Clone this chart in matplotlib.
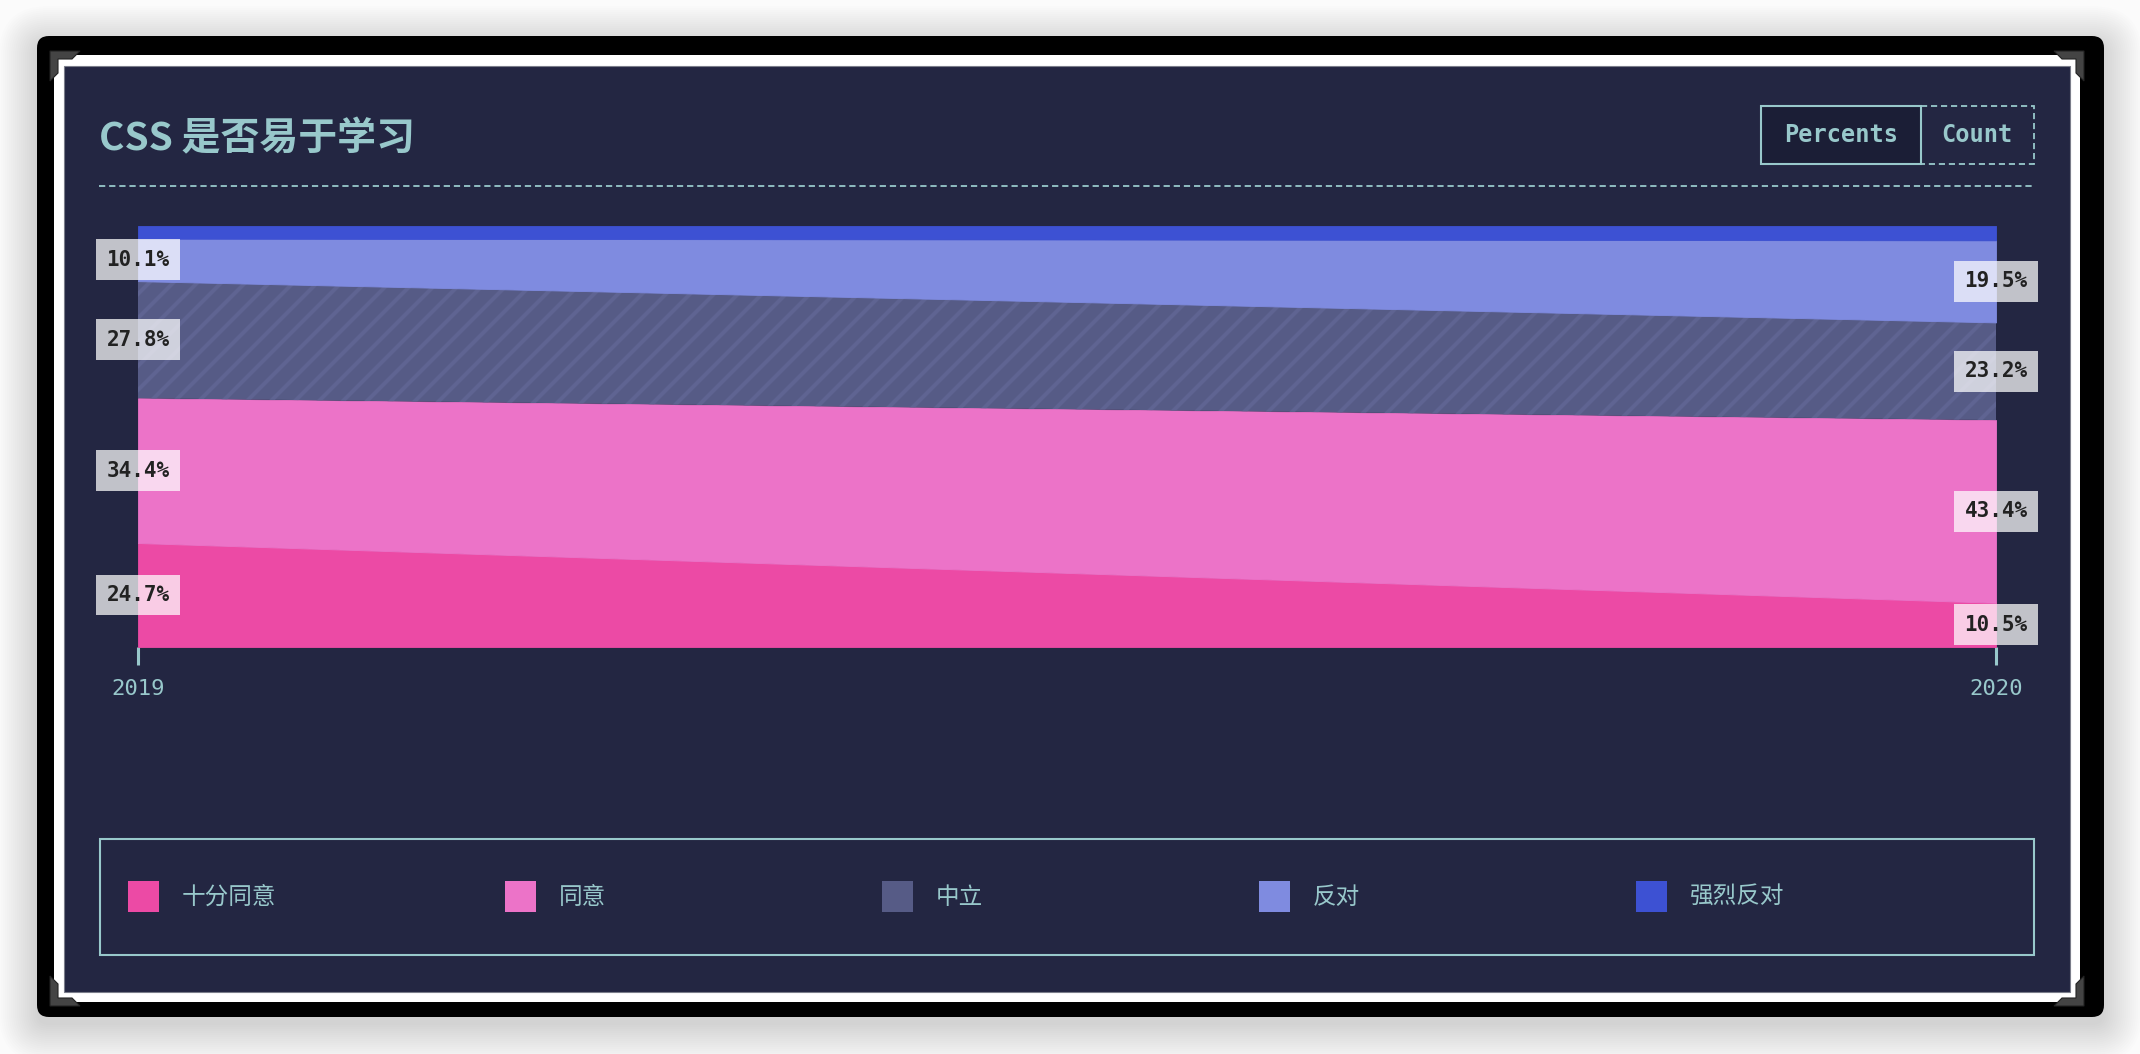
import matplotlib
matplotlib.use('Agg')
import matplotlib.pyplot as plt
from matplotlib.patches import Rectangle, FancyBboxPatch, Polygon
import numpy as np

# ---------------- data ----------------
years = [2019, 2020]
year_labels = ['2019', '2020']
categories = ['十分同意', '同意', '中立', '反对', '强烈反对']
strongly_agree = [24.7, 10.5]
agree = [34.4, 43.4]
neutral = [27.8, 23.2]
disagree = [10.1, 19.5]
strongly_disagree = [3.0, 3.4]
title = 'CSS 是否易于学习'
buttons = ['Percents', 'Count']

series = [strongly_agree, agree, neutral, disagree, strongly_disagree]
colors = ['#EC4AA5', '#EC73C8', '#565B86', '#7F8BE0', '#3D51D3']

BG = '#232642'
TEAL = '#98C8CB'
W, H = 2140, 1054
DPI = 144
S = 100 / DPI  # sizes below are written for 100 dpi, scaled to actual dpi


def pt(v):
    return v * S


plt.rcParams['font.family'] = ['Noto Sans CJK SC', 'DejaVu Sans']
plt.rcParams['hatch.linewidth'] = 2.0
plt.rcParams['lines.scale_dashes'] = False

fig = plt.figure(figsize=(W / DPI, H / DPI), dpi=DPI, facecolor='#fbfbfb')

# ---------------- background / frame (pixel coords) ----------------
bg = fig.add_axes([0, 0, 1, 1], zorder=0)
bg.set_xlim(0, W)
bg.set_ylim(H, 0)
bg.axis('off')

# soft shadow
for i in range(20):
    pad = i * 2.0
    bg.add_patch(FancyBboxPatch((37 - pad, 44 - pad), 2067 + 2 * pad, 981 + 2 * pad,
                                boxstyle=f'round,pad=0,rounding_size={12 + pad}',
                                fc='black', ec='none', alpha=0.009))
# black frame
bg.add_patch(FancyBboxPatch((37, 36), 2104 - 37, 1017 - 36,
                            boxstyle='round,pad=0,rounding_size=12', fc='black', ec='none'))
# white border
bg.add_patch(Rectangle((54, 55), 2080 - 54, 1002 - 55, fc='white', ec='none'))
# navy panel
bg.add_patch(Rectangle((64, 66), 2070 - 64, 992 - 66, fc=BG, ec='#7a7d8a', lw=pt(0.8)))

# corner brackets
base = np.array([(0, 0), (30, 0), (22, 8), (8, 8), (8, 22), (0, 30)], dtype=float)
for (cx, cy, sx, sy) in [(50, 51, 1, 1), (2084, 51, -1, 1), (50, 1006, 1, -1), (2084, 1006, -1, -1)]:
    pts = np.column_stack([cx + sx * base[:, 0], cy + sy * base[:, 1]])
    bg.add_patch(Polygon(pts, closed=True, fc='#444444', ec='#222222', lw=pt(0.8)))

# title
bg.text(99, 150, title, fontsize=pt(28), weight='bold', color=TEAL, ha='left', va='baseline')

# dashed separator
bg.plot([99, 2034], [186, 186], color=TEAL, lw=pt(1.3), dashes=(pt(4.5), pt(2.8)))

# buttons
bg.add_patch(Rectangle((1761, 106), 160, 58, fc='#1B1E36', ec=TEAL, lw=pt(1.5)))
bg.add_patch(Rectangle((1921, 106), 113, 58, fc='none', ec=TEAL, lw=pt(1.3),
                       ls=(0, (pt(4) / pt(1.3) * 1.0, pt(2.5) / pt(1.3)))))
bg.text(1841, 135, buttons[0], family='DejaVu Sans Mono', weight='bold', fontsize=pt(17),
        color=TEAL, ha='center', va='center')
bg.text(1977, 135, buttons[1], family='DejaVu Sans Mono', weight='bold', fontsize=pt(17),
        color=TEAL, ha='center', va='center')

# legend
bg.add_patch(Rectangle((100, 839), 1934, 116, fc='none', ec=TEAL, lw=pt(1.5)))
for i, cat in enumerate(categories):
    x0 = 128 + i * 377
    bg.add_patch(Rectangle((x0, 881), 31, 31, fc=colors[i], ec='none'))
    bg.text(x0 + 54, 897, cat, fontsize=pt(17), color=TEAL, ha='left', va='center')

# ---------------- chart ----------------
ax = fig.add_axes([138 / W, 1 - 647 / H, (1996 - 138) / W, (647 - 226) / H], zorder=1)
ax.set_facecolor('none')
ax.set_xlim(years[0], years[-1])
ax.set_ylim(0, 100)

lower = np.zeros(len(years))
for i, s in enumerate(series):
    vals = np.array(s, dtype=float)
    upper = lower + vals
    if i == 2:
        ax.fill_between(years, lower, upper, facecolor=colors[i], edgecolor='#5F6492',
                        hatch='//', linewidth=0, zorder=2)
    else:
        ax.fill_between(years, lower, upper, facecolor=colors[i], edgecolor=colors[i],
                        linewidth=pt(0.6), zorder=2)
    for j, x in enumerate(years):
        if vals[j] >= 5:
            ax.text(x, lower[j] + vals[j] / 2, f'{vals[j]:.1f}%', family='DejaVu Sans Mono',
                    weight='bold', fontsize=pt(15), color='#222222', ha='center', va='center',
                    zorder=5, clip_on=False,
                    bbox=dict(boxstyle='square,pad=0.5', fc='white', ec='none', alpha=0.72))
    lower = upper

for sp in ax.spines.values():
    sp.set_visible(False)
ax.set_yticks([])
ax.set_xticks(years, year_labels)
ax.tick_params(axis='x', length=pt(13), width=pt(2.2), color=TEAL, labelcolor=TEAL,
               labelsize=pt(16), pad=pt(10), direction='out')
for lab in ax.get_xticklabels():
    lab.set_family('DejaVu Sans Mono')

fig.savefig('out.png', dpi=DPI, facecolor=fig.get_facecolor())
